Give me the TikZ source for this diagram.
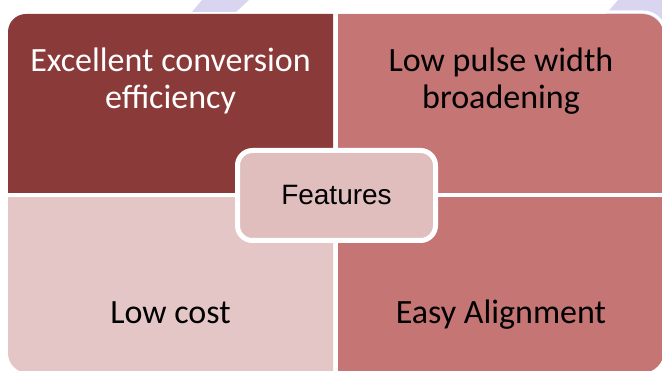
\documentclass[tikz,border=0pt]{standalone}
\usepackage{fontspec}
\newfontfamily\calibrifont{Carlito}
\newfontfamily\arialfont{Liberation Sans}
\usetikzlibrary{positioning}

\definecolor{darkrose}{HTML}{8B3A3A}
\definecolor{midrose}{HTML}{C47574}
\definecolor{palerose}{HTML}{E4C6C7}
\definecolor{hubrose}{HTML}{E0BEBE}
\definecolor{lavender}{HTML}{D9D5F0}

\tikzset{
  quadtext/.style={font=\calibrifont\fontsize{34}{37}\selectfont, align=center, anchor=base, inner sep=0pt},
  hub/.style={draw=white, line width=5pt, fill=hubrose, rounded corners=15pt,
    minimum width=198pt, minimum height=90pt, font=\arialfont\fontsize{28}{32}\selectfont}
}

\begin{document}
\begin{tikzpicture}[x=1pt,y=-1pt]
	\useasboundingbox (0,0) rectangle (662,371);
	\fill[white] (0,0) rectangle (662,371);
	
	% faint bands behind the quadrants
	\fill[lavender] (202,0) -- (249,0) -- (236,12) -- (192,12) -- cycle;
	\fill[lavender] (618,0) -- (662,0) -- (662,34) -- (606,14) -- cycle;
	
	% top left quadrant
	\begin{scope}
		\clip (8,14) rectangle (333,193);
		\fill[darkrose, rounded corners=18pt] (8,14) rectangle (373,233);
	\end{scope}
	
	% top right quadrant, white rim
	\begin{scope}
		\clip (338,14) rectangle (670,193);
		\fill[midrose, rounded corners=22pt] (298,14) rectangle (664,233);
	\end{scope}
	\draw[white, line width=3pt, rounded corners=22pt] (338,12) -- (665,12) -- (665,60);
	
	% bottom left quadrant
	\begin{scope}
		\clip (8,198) rectangle (333,380);
		\fill[palerose, rounded corners=20pt] (8,158) rectangle (373,373);
	\end{scope}
	
	% bottom right quadrant
	\begin{scope}
		\clip (338,198) rectangle (670,380);
		\fill[midrose, rounded corners=22pt] (298,158) rectangle (664,373);
	\end{scope}
	
	\node[quadtext, white] (efficiency) at (170.5,109) {Excellent conversion\\efficiency};
	\node[quadtext] (broadening) at (501,109) {Low pulse width\\broadening};
	\node[quadtext] (cost) at (170.5,324) {Low cost};
	\node[quadtext] (alignment) at (501,324) {Easy Alignment};
	
	\node[hub] (features) at (336.5,195.5) {Features};
	
\end{tikzpicture}
\end{document}
